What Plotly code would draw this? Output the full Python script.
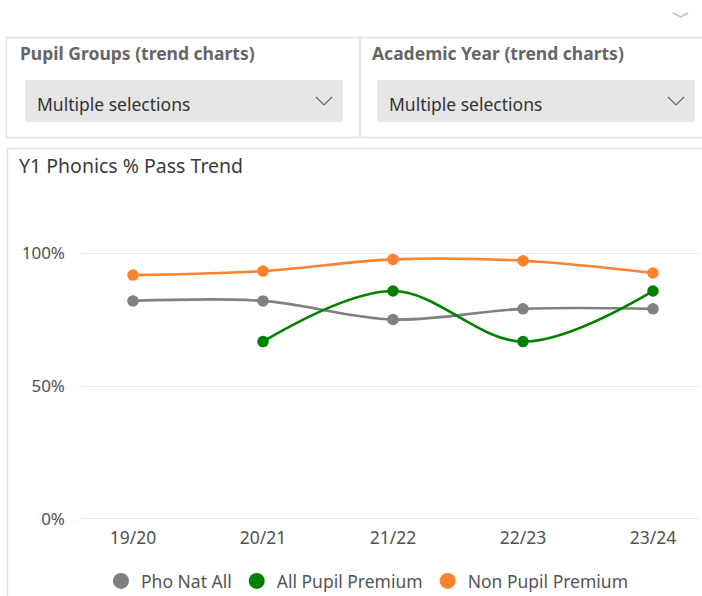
import plotly.graph_objects as go

W, H = 702, 596
MB = 60  # bottom margin (keeps the legend from pushing the layout)

years = ["19/20", "20/21", "21/22", "22/23", "23/24"]
pho_nat_all = [0.82, 0.82, 0.75, 0.79, 0.79]
all_pupil_premium = [None, 0.667, 0.857, 0.667, 0.857]
non_pupil_premium = [0.917, 0.932, 0.976, 0.971, 0.925]

series_names = ["Pho Nat All", "All Pupil Premium", "Non Pupil Premium"]
series_colors = ["#808080", "#008000", "#FD822D"]
series_values = [pho_nat_all, all_pupil_premium, non_pupil_premium]

y_ticks = [0, 0.5, 1.0]
y_tick_text = ["0%", "50%", "100%"]

title_text = "Y1 Phonics % Pass Trend"
slicer_titles = ["Pupil Groups (trend charts)", "Academic Year (trend charts)"]
slicer_values = ["Multiple selections", "Multiple selections"]

FONT = "Segoe UI, Noto Sans, Open Sans, sans-serif"


def px(x):
    return x / W


def py(y):
    return (H - MB - y) / (H - MB)


fig = go.Figure()

for name, color, vals in zip(series_names, series_colors, series_values):
    fig.add_trace(go.Scatter(
        x=years, y=vals, mode="lines+markers", name=name,
        line=dict(color=color, width=2.6, shape="spline", smoothing=1.0),
        marker=dict(color=color, size=11.5),
        showlegend=False, connectgaps=False, hoverinfo="skip",
    ))
    # legend-only entry (circle symbol)
    fig.add_trace(go.Scatter(
        x=[None], y=[None], mode="markers", name=name,
        marker=dict(color=color, size=16), showlegend=True,
    ))

shapes = []
line_col = "#E1E1E1"
# top slicer container
shapes.append(dict(type="rect", xref="paper", yref="paper",
                   x0=px(6.5), x1=px(710), y0=py(137.5), y1=py(37.5),
                   line=dict(color=line_col, width=1.5), fillcolor="rgba(0,0,0,0)"))
shapes.append(dict(type="line", xref="paper", yref="paper",
                   x0=px(360), x1=px(360), y0=py(137.5), y1=py(37.5),
                   line=dict(color=line_col, width=1.5)))
# dropdown boxes
for x0, x1 in [(25, 343), (377, 695)]:
    shapes.append(dict(type="rect", xref="paper", yref="paper",
                       x0=px(x0), x1=px(x1), y0=py(122), y1=py(80),
                       line=dict(width=0), fillcolor="#E6E6E6"))
# dropdown chevrons
for cx in [324, 676]:
    shapes.append(dict(type="path", xref="paper", yref="paper",
                       path=f"M {px(cx-8)} {py(97)} L {px(cx)} {py(105)} L {px(cx+8)} {py(97)}",
                       line=dict(color="#666666", width=1.2)))
# top-right small chevron
shapes.append(dict(type="path", xref="paper", yref="paper",
                   path=f"M {px(673)} {py(13)} L {px(680.5)} {py(17)} L {px(688)} {py(13)}",
                   line=dict(color="#BBBBBB", width=1.5)))
# chart container
shapes.append(dict(type="rect", xref="paper", yref="paper",
                   x0=px(7.5), x1=px(712), y0=py(610), y1=py(148.5),
                   line=dict(color=line_col, width=1.5), fillcolor="rgba(0,0,0,0)"))

annotations = []
for tx, t in zip([18, 370], slicer_titles):
    annotations.append(dict(xref="paper", yref="paper", x=px(tx), y=py(53),
                            xanchor="left", yanchor="middle", showarrow=False,
                            text=f"<b>{t}</b>",
                            font=dict(family=FONT, size=17.5, color="#666666")))
for tx, t in zip([35, 387], slicer_values):
    annotations.append(dict(xref="paper", yref="paper", x=px(tx), y=py(104),
                            xanchor="left", yanchor="middle", showarrow=False,
                            text=t, font=dict(family=FONT, size=17.5, color="#333333")))
annotations.append(dict(xref="paper", yref="paper", x=px(17), y=py(165),
                        xanchor="left", yanchor="middle", showarrow=False,
                        text=title_text, font=dict(family=FONT, size=19.5, color="#3A3A3A")))

fig.update_layout(
    width=W, height=H,
    margin=dict(l=0, r=0, t=0, b=MB, pad=0, autoexpand=False),
    paper_bgcolor="white", plot_bgcolor="white",
    font=dict(family=FONT, color="#555555"),
    shapes=shapes, annotations=annotations,
    legend=dict(orientation="h", x=px(101), y=py(581), xanchor="left", yanchor="middle",
                font=dict(family=FONT, size=17.5, color="#555555"),
                itemwidth=30, tracegroupgap=0, bgcolor="rgba(0,0,0,0)"),
    xaxis=dict(domain=[px(81), px(698.5)], range=[-0.4, 4.35], type="category",
               categoryorder="array", categoryarray=years, automargin=False,
               showgrid=False, zeroline=False, showline=False, ticks="",
               tickfont=dict(family=FONT, size=17.5, color="#505050"),
               ticklabelstandoff=1),
    yaxis=dict(domain=[py(524.3), py(194.5)], range=[-0.02, 1.22], automargin=False,
               tickvals=y_ticks, ticktext=y_tick_text,
               showgrid=True, gridcolor="#E9E9E9", gridwidth=1,
               zeroline=False, showline=False, ticks="",
               tickfont=dict(family=FONT, size=17, color="#505050"),
               ticklabelstandoff=15),
    showlegend=True,
)

fig.write_html(
    "out.html",
    config={"displayModeBar": False},
    post_script="document.body.style.margin='0';document.body.style.overflow='hidden';",
)
